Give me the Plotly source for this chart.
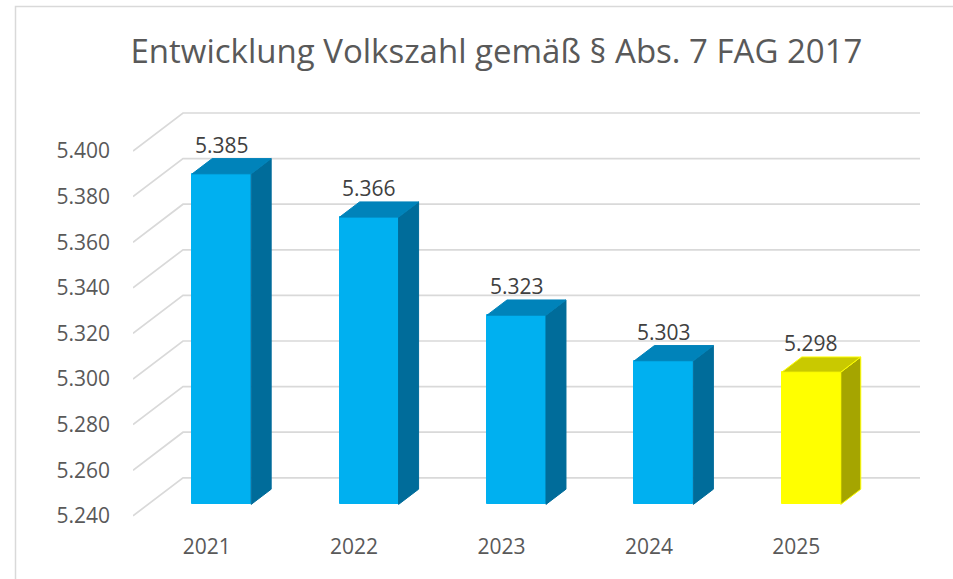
import plotly.graph_objects as go

# ---- data ----
years = ["2021", "2022", "2023", "2024", "2025"]
values = [5.385, 5.366, 5.323, 5.303, 5.298]
front_colors = ["#00B0F0", "#00B0F0", "#00B0F0", "#00B0F0", "#FFFF00"]
side_colors = ["#006C9A", "#006C9A", "#006C9A", "#006C9A", "#A5A500"]
top_colors = ["#0083BA", "#0083BA", "#0083BA", "#0083BA", "#C9C900"]
y_ticks = [5.240, 5.260, 5.280, 5.300, 5.320, 5.340, 5.360, 5.380, 5.400]
y_tick_text = ["5.240", "5.260", "5.280", "5.300", "5.320", "5.340", "5.360", "5.380", "5.400"]
value_text = ["5.385", "5.366", "5.323", "5.303", "5.298"]
title_text = "Entwicklung Volkszahl gemäß § Abs. 7 FAG 2017"

# ---- geometry (pseudo 3D) ----
W, H = 953, 579
ML, MR, MT, MB = 133, 33, 100, 49
plot_w = W - ML - MR
plot_h = H - MT - MB
px_per_cat = 147.4
px_per_unit = 2280.0
y_floor = 5.240
y_top_px = 151  # pixel of 5.400 on front
y_max = 5.400 + (y_top_px - MT) / px_per_unit
y_min = y_max - plot_h / px_per_unit
x_min = -0.5
x_max = x_min + plot_w / px_per_cat
DX = 50 / px_per_cat   # depth offset in x units
DY = 38 / px_per_unit  # depth offset in y units
f0, f1 = 0.3, 0.7      # bar depth fraction
bw = 0.40
n = len(years)

fig = go.Figure()

# gridlines (back wall + side wall diagonals), drawn below traces
shapes = []
for v in y_ticks:
    path = (f"M {x_min},{v} L {x_min + DX},{v + DY} L {n - 0.5 + DX},{v + DY}")
    shapes.append(dict(type="path", path=path, xref="x", yref="y", layer="below",
                       line=dict(color="#D9D9D9", width=1.7)))

# chart border (left + top)
shapes.append(dict(type="path", xref="paper", yref="paper", layer="above",
                   path=f"M {(15.5 - ML) / plot_w},{-(H + 10 - (H - MB)) / plot_h} "
                        f"L {(15.5 - ML) / plot_w},{(H - MB - 6.5) / plot_h} "
                        f"L {(W + 10 - ML) / plot_w},{(H - MB - 6.5) / plot_h}",
                   line=dict(color="#D9D9D9", width=1.5)))

# front faces
xs_front = [i + f0 * DX for i in range(n)]
fig.add_trace(go.Bar(
    x=xs_front, y=[v - y_floor for v in values], base=y_floor + f0 * DY,
    width=bw, marker=dict(color=front_colors,
                          line=dict(color=front_colors, width=1)),
    hoverinfo="skip", showlegend=False))

# side and top faces
for i, v in enumerate(values):
    xr0 = i + bw / 2 + f0 * DX
    xr1 = i + bw / 2 + f1 * DX
    xl0 = i - bw / 2 + f0 * DX
    xl1 = i - bw / 2 + f1 * DX
    b0 = y_floor + f0 * DY
    b1 = y_floor + f1 * DY
    t0 = v + f0 * DY
    t1 = v + f1 * DY
    outline = "#FFFF00" if i == n - 1 else side_colors[i]
    fig.add_trace(go.Scatter(
        x=[xr0, xr1, xr1, xr0, xr0], y=[b0, b1, t1, t0, b0],
        mode="lines", fill="toself", fillcolor=side_colors[i],
        line=dict(color=outline, width=1), hoverinfo="skip", showlegend=False))
    outline_t = "#FFFF00" if i == n - 1 else top_colors[i]
    fig.add_trace(go.Scatter(
        x=[xl0, xr0, xr1, xl1, xl0], y=[t0, t0, t1, t1, t0],
        mode="lines", fill="toself", fillcolor=top_colors[i],
        line=dict(color=outline_t, width=1), hoverinfo="skip", showlegend=False))

# data labels
annotations = []
for i, v in enumerate(values):
    annotations.append(dict(x=xs_front[i], y=v + f1 * DY, xref="x", yref="y",
                            text=value_text[i], showarrow=False, yanchor="bottom",
                            yshift=-2,
                            font=dict(family="Open Sans", size=21, color="#404040")))

fig.update_layout(
    width=W, height=H,
    margin=dict(l=ML, r=MR, t=MT, b=MB, pad=0),
    paper_bgcolor="white", plot_bgcolor="white",
    title=dict(text=title_text, xref="container", yref="container",
               x=0.521, xanchor="center", y=1 - 51 / H, yanchor="middle",
               font=dict(family="Open Sans", size=33, color="#595959")),
    xaxis=dict(range=[x_min, x_max], tickvals=list(range(n)), ticktext=years,
               showgrid=False, zeroline=False, showline=False, ticks="",
               tickfont=dict(family="Open Sans", size=21, color="#595959"),
               ticklabelstandoff=2),
    yaxis=dict(range=[y_min, y_max], tickvals=y_ticks, ticktext=y_tick_text,
               showgrid=False, zeroline=False, showline=False, ticks="",
               tickfont=dict(family="Open Sans", size=21, color="#595959"),
               ticklabelstandoff=22),
    shapes=shapes, annotations=annotations,
    bargap=0,
)

fig.write_html("out.html", config={"displayModeBar": False},
               post_script="document.body.style.margin='0';")
